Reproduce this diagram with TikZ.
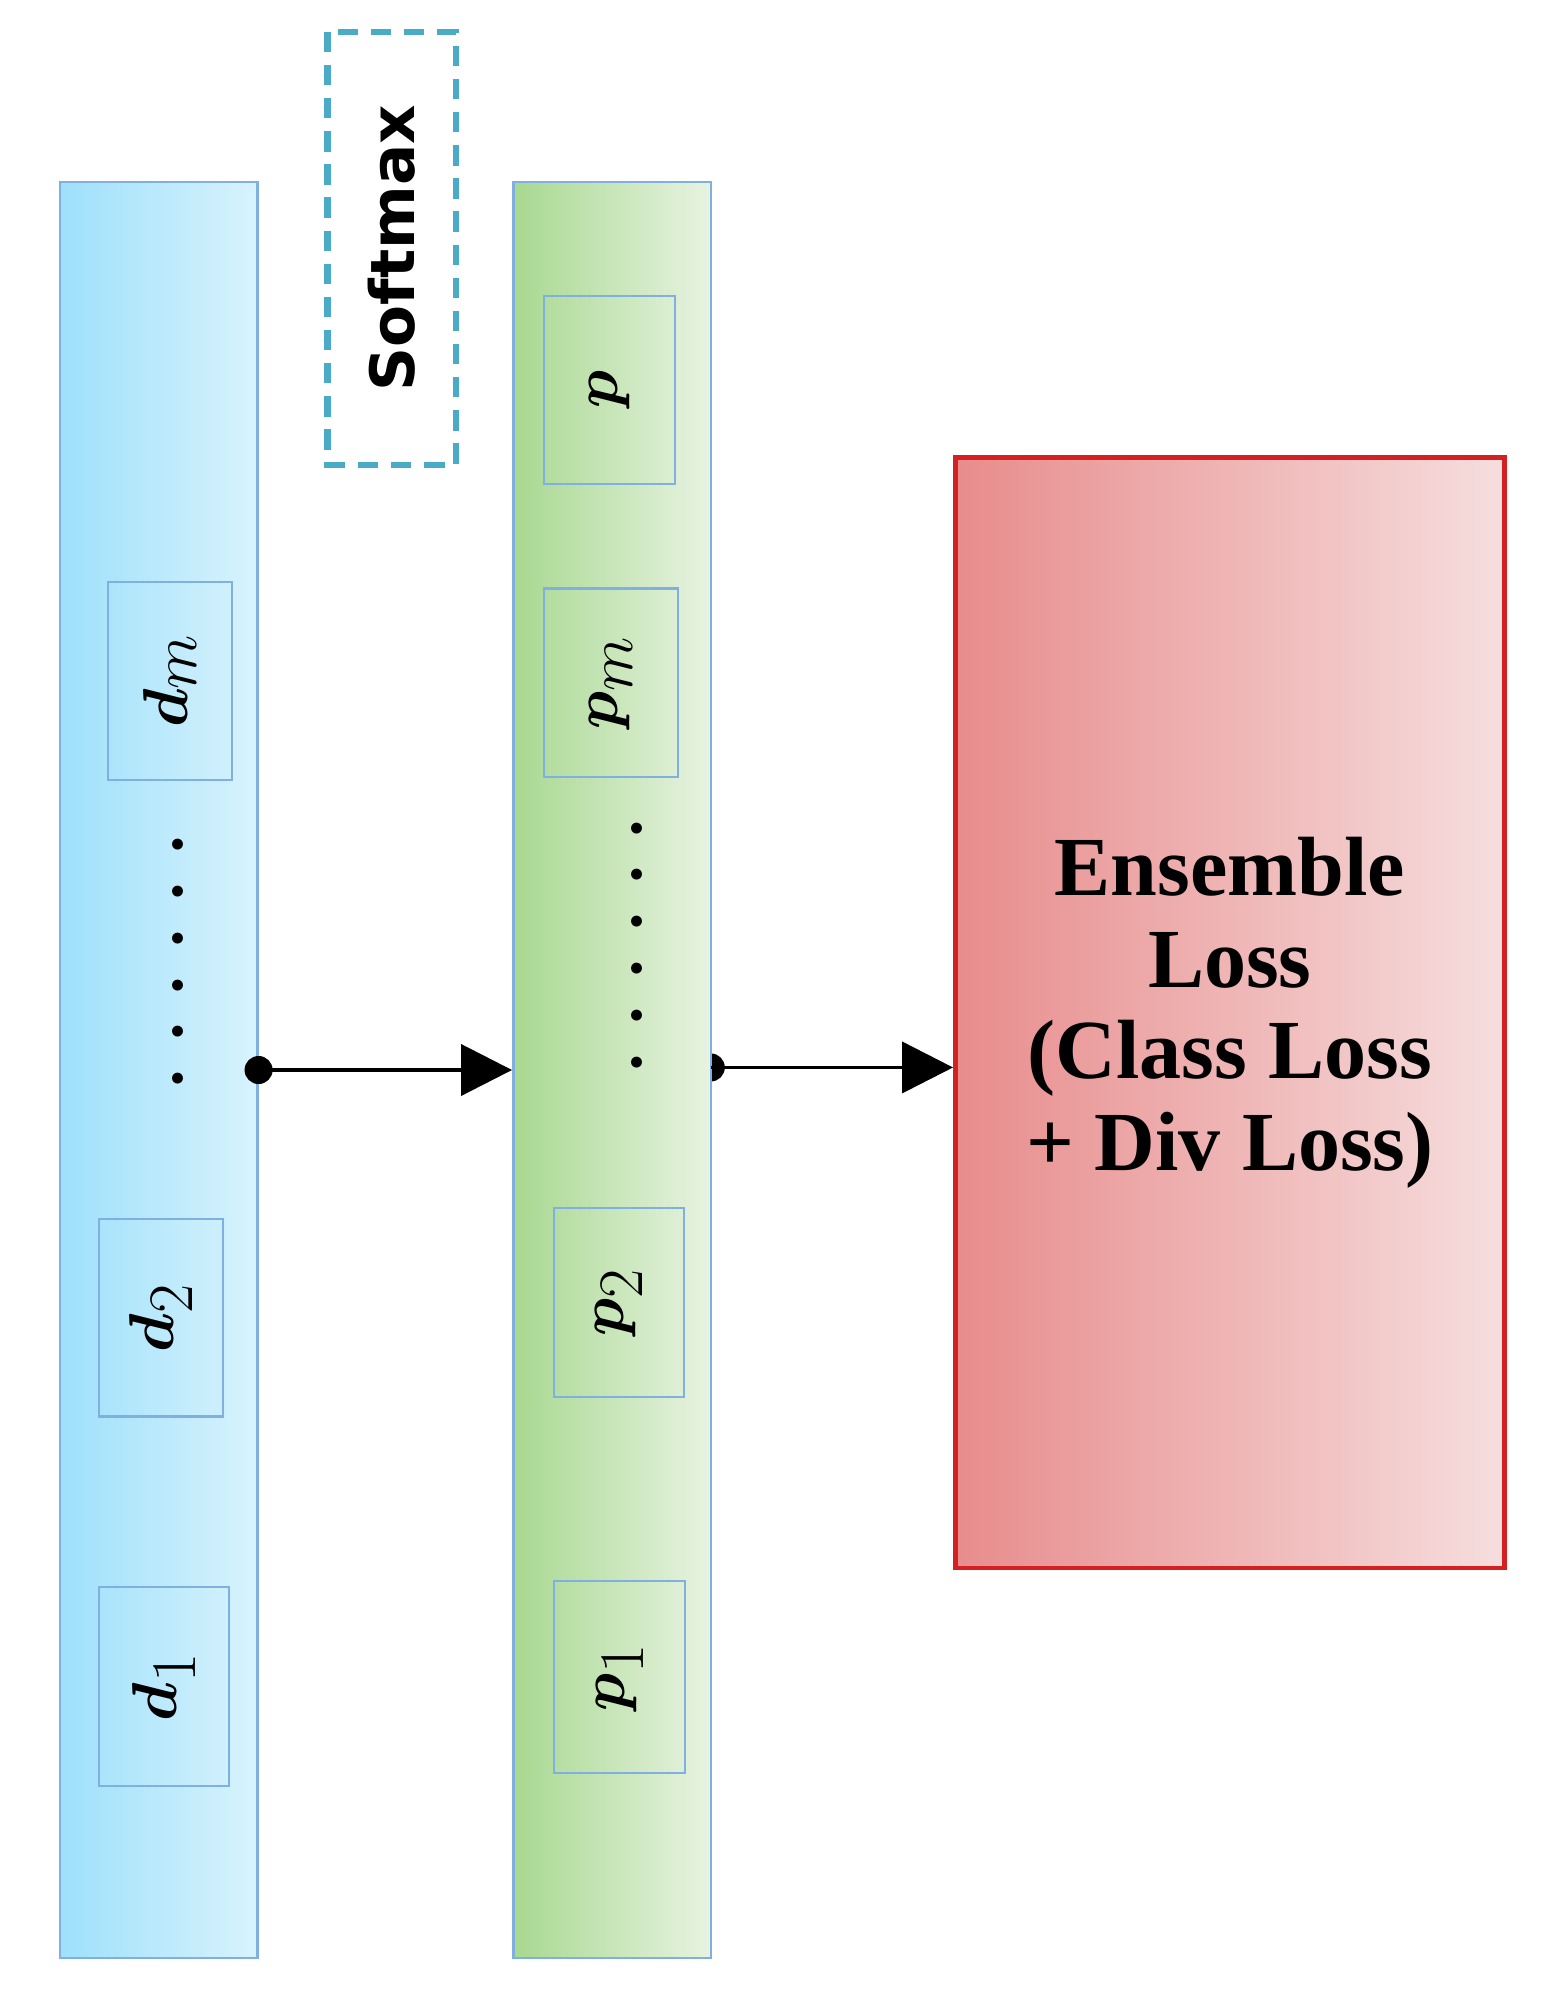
\documentclass[tikz,border=0pt]{standalone}
\usepackage{amsmath}
\usepackage{fontspec}
\newfontfamily\sansb{DejaVu Sans}
\newfontfamily\serifb{Liberation Serif}
\usetikzlibrary{arrows.meta,shadings}
\definecolor{bluebd}{HTML}{7FB0E0}
\definecolor{blueL}{HTML}{9EE0FB}
\definecolor{blueR}{HTML}{D8F3FD}
\definecolor{greenL}{HTML}{A8D890}
\definecolor{greenR}{HTML}{E8F3E2}
\definecolor{smx}{HTML}{4AABC6}
\definecolor{redbd}{HTML}{D42020}
\definecolor{redA}{HTML}{E88C8C}
\definecolor{redB}{HTML}{F6DEDE}
\newcommand\mydots{.\hspace{9pt}.\hspace{9pt}.\hspace{9pt}.\hspace{9pt}.\hspace{9pt}.}
\begin{document}
\begin{tikzpicture}[x=0.5pt,y=-0.5pt,
  col/.style={draw=bluebd,line width=1pt,minimum width=77.5pt,minimum height=697pt,inner sep=0},
  cell/.style={draw=bluebd,line width=0.8pt,rotate=90,inner sep=0,font=\fontsize{33}{36}\selectfont},
  dots/.style={rotate=90,font=\fontsize{30}{34}\selectfont\bfseries},
  arr/.style={line width=1.5pt,-{Triangle[length=20pt,width=20pt]}}]
\useasboundingbox (0,0) rectangle (1220,1575.6);
\node[col,left color=blueL,right color=blueR] (blue) at (124.5,840) {};
\coordinate (gdot) at (558,838);
\fill (gdot) circle (5.5pt);
\node[col,left color=greenL,right color=greenR] (green) at (480.5,840) {};
\node[draw=smx,dashed,dash pattern=on 8pt off 5pt,line width=2.5pt,rotate=90,minimum width=170pt,minimum height=50.5pt,inner sep=0,font=\sansb\bfseries\fontsize{24}{28}\selectfont] (soft) at (307.5,195) {Softmax};
\node[draw=redbd,line width=1.8pt,minimum width=215.5pt,minimum height=436pt,inner sep=0,
  left color=redA,right color=redB,
  align=center,font=\serifb\bfseries\fontsize{33}{36}\selectfont] (red) at (965.5,795) {Ensemble\\Loss\\(Class Loss\\+ Div Loss)};
\node[cell,minimum width=77.5pt,minimum height=48.5pt] (dm) at (133.5,534.5) {$\boldsymbol{d}_m$};
\node[cell,minimum width=77.5pt,minimum height=48.5pt] (d2) at (126.5,1034.5) {$\boldsymbol{d}_2$};
\node[cell,minimum width=78pt,minimum height=51pt] (d1) at (129,1324) {$\boldsymbol{d}_1$};
\node[cell,minimum width=74pt,minimum height=51.5pt] (p) at (478.5,306) {$\boldsymbol{p}$};
\node[cell,minimum width=74pt,minimum height=52.5pt] (pm) at (479.5,536) {$\boldsymbol{p}_m$};
\node[cell,minimum width=74.5pt,minimum height=51pt] (p2) at (486,1022.5) {$\boldsymbol{p}_2$};
\node[cell,minimum width=75.5pt,minimum height=51.5pt] (p1) at (486.5,1316.5) {$\boldsymbol{p}_1$};
\node[dots] (dotsd) at (140,755) {\mydots};
\node[dots] (dotsp) at (500,742) {\mydots};
\fill (blue.east) circle (5.5pt);
\draw[arr] (blue.east) -- (green.west);
\draw[arr] (gdot) -- (gdot -| red.west);
\end{tikzpicture}
\end{document}
